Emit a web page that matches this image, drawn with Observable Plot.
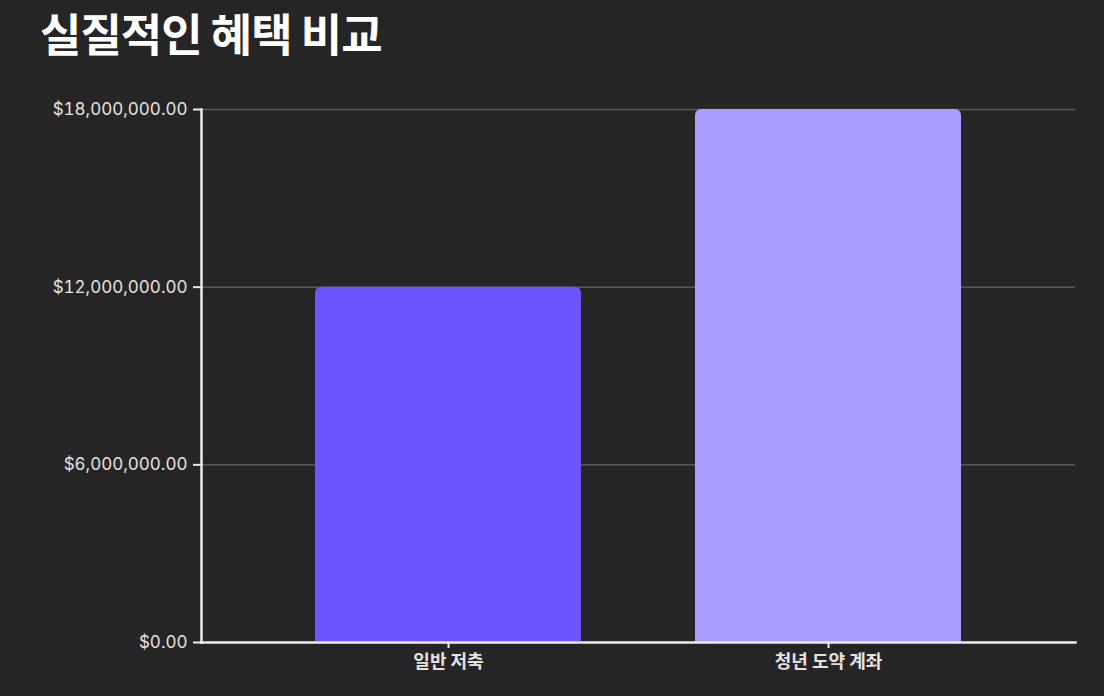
<!DOCTYPE html>
<html><head><meta charset="utf-8">
<script src="https://cdn.jsdelivr.net/npm/d3@7"></script>
<script src="https://cdn.jsdelivr.net/npm/@observablehq/plot@0.6"></script>
<style>
html,body{margin:0;padding:0;background:#262526;width:1104px;height:696px;overflow:hidden;}
#title{position:absolute;left:40px;top:0px;margin:0;font-family:"Noto Sans CJK KR","Noto Sans",sans-serif;font-weight:700;font-size:45px;color:#ffffff;letter-spacing:-1px;}
#chart{position:absolute;left:0;top:80px;}
</style></head>
<body>
<h1 id="title">실질적인 혜택 비교</h1>
<div id="chart"></div>
<script>
const categories = ["일반 저축", "청년 도약 계좌"];
const values = [12000000, 18000000];
const colors = ["#6a55ff", "#a99cff"];
const yTicks = [0, 6000000, 12000000, 18000000];

const data = categories.map((c, i) => ({category: c, value: values[i], color: colors[i]}));
const fmt = v => "$" + d3.format(",.2f")(v);

const chart = Plot.plot({
  width: 1104,
  height: 616,
  marginTop: 29,
  marginLeft: 201,
  marginRight: 29,
  marginBottom: 54,
  style: {background: "transparent", color: "#e6e0e0", fontSize: "17px", fontFamily: "Inter, 'Noto Sans CJK KR', sans-serif"},
  x: {domain: categories, padding: 0.3, label: null},
  y: {domain: [0, 18000000], label: null},
  marks: [
    Plot.gridY(yTicks, {stroke: "#5a5a5a", strokeOpacity: 1, strokeWidth: 1.5}),
    Plot.barY(data, {x: "category", y: "value", fill: "color", rx: 6}),
    Plot.barY(data, {x: "category", y1: 0, y2: d => d.value / 2, fill: "color"}),
    Plot.axisY(yTicks, {tickFormat: fmt, tickSize: 8, tickPadding: 6, stroke: "#f0eaea", strokeWidth: 2, fill: "#e6e2e2", fontSize: 17, label: null}),
    Plot.axisX({tickSize: 6, tickPadding: 7, stroke: "#f0eaea", strokeWidth: 2, fill: "#e6e2e2", fontSize: 18, fontWeight: 700, fontFamily: "'Noto Sans CJK KR', sans-serif", label: null}),
    Plot.frame({anchor: "left", stroke: "#f0eaea", strokeWidth: 2.5}),
    Plot.frame({anchor: "bottom", stroke: "#f0eaea", strokeWidth: 2.5})
  ]
});
document.getElementById("chart").appendChild(chart);
</script>
</body></html>
